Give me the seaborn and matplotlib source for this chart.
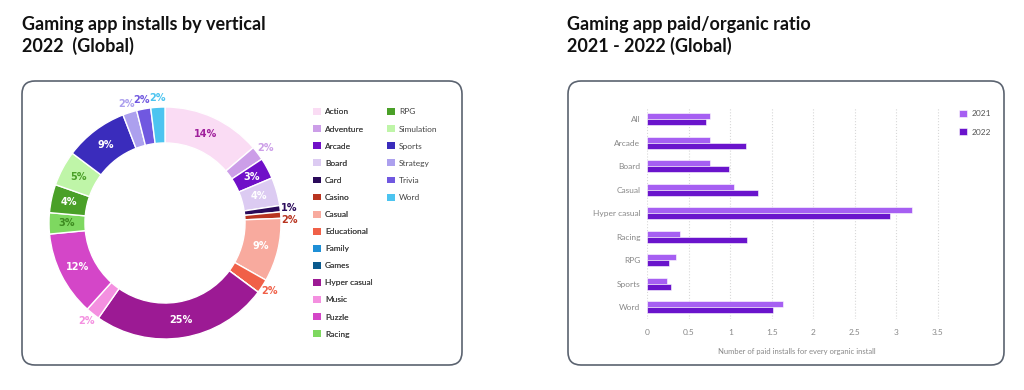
import numpy as np
import pandas as pd
import matplotlib
matplotlib.use('Agg')
import matplotlib.pyplot as plt
from matplotlib.patches import FancyBboxPatch, Patch
import seaborn as sns

sns.set_style('white')
plt.rcParams['font.family'] = ['Lato', 'DejaVu Sans']

# donut: installs share by vertical, 2022
verticals = ['Action', 'Adventure', 'Arcade', 'Board', 'Card', 'Casino', 'Casual',
             'Educational', 'Family', 'Games', 'Hyper casual', 'Music', 'Puzzle',
             'Racing', 'RPG', 'Simulation', 'Sports', 'Strategy', 'Trivia', 'Word']
shares = [14, 2, 3, 4, 0.9, 0.9, 9, 2, 0, 0, 25, 2, 12, 3, 4, 5, 9, 2, 2, 2]
share_labels = ['14%', '2%', '3%', '4%', '1%', '2%', '9%', '2%', '', '', '25%', '2%',
                '12%', '3%', '4%', '5%', '9%', '2%', '2%', '2%']
vert_colors = ['#fadcf4', '#cc9ee8', '#7010c8', '#dccbf2', '#2a0a5a', '#b83420',
               '#f8aa9e', '#f06048', '#1e8fd6', '#0a5a8e', '#9c1a94', '#f490e0',
               '#d446c8', '#7ed860', '#4aa028', '#bff5a8', '#3a2cbc', '#aca0ee',
               '#7058e0', '#4cc4f0']
label_colors = ['#a0209c', '#cc9ee8', 'white', 'white', '#2a0a5a', '#b83420', 'white',
                '#f06048', 'white', 'white', 'white', '#f490e0', 'white', '#3d8a20',
                'white', '#4aa028', 'white', '#aca0ee', '#7058e0', '#4cc4f0']

# bars: paid / organic ratio
cats = ['All', 'Arcade', 'Board', 'Casual', 'Hyper casual', 'Racing', 'RPG', 'Sports', 'Word']
ratio_2021 = [0.75, 0.75, 0.76, 1.04, 3.19, 0.39, 0.35, 0.24, 1.63]
ratio_2022 = [0.71, 1.19, 0.98, 1.33, 2.93, 1.20, 0.26, 0.29, 1.51]
years = ['2021', '2022']
year_colors = ['#a65ff2', '#6a14cc']

W, H = 1024, 390
fig = plt.figure(figsize=(W / 100, H / 100), dpi=100)


def px_axes(left, top, width, height):
    return fig.add_axes([left / W, 1 - (top + height) / H, width / W, height / H])


# background panels
bg = fig.add_axes([0, 0, 1, 1], zorder=-5)
bg.set_xlim(0, W)
bg.set_ylim(H, 0)
bg.axis('off')
for x0, x1 in [(22, 462), (568, 1004)]:
    bg.add_patch(FancyBboxPatch((x0, 81), x1 - x0, 284,
                                boxstyle='round,pad=0,rounding_size=13',
                                fc='white', ec='#5b6370', lw=1.2))

fig.text(22 / W, 1 - 16 / H, 'Gaming app installs by vertical\n2022  (Global)',
         fontsize=13, fontweight='bold', va='top', ha='left', linespacing=1.28, color='#111111')
fig.text(567 / W, 1 - 16 / H, 'Gaming app paid/organic ratio\n2021 - 2022 (Global)',
         fontsize=13, fontweight='bold', va='top', ha='left', linespacing=1.28, color='#111111')

# ---- donut
cx, cy, R = 165, 223, 116
ax1 = px_axes(cx - 1.3 * R, cy - 1.3 * R, 2.6 * R, 2.6 * R)
wedges, _ = ax1.pie(shares, colors=vert_colors, startangle=90, counterclock=False,
                    radius=1, wedgeprops=dict(width=0.31, edgecolor='white', linewidth=1))
ax1.set_xlim(-1.3, 1.3)
ax1.set_ylim(-1.3, 1.3)
ax1.set_aspect('equal')

total = sum(shares)
cum = 0
last_out = None
for v, lab, lc in zip(shares, share_labels, label_colors):
    mid = (cum + v / 2) / total
    cum += v
    if not lab:
        continue
    ang = np.deg2rad(90 - 360 * mid)
    r = 0.845 if v >= 3 else 1.08
    x, y = r * np.cos(ang), r * np.sin(ang)
    if v < 3:
        # thin slices on the right side: push the lower label down a bit
        if last_out is not None and abs(x) > 0.9 and abs(y - last_out[1]) < 0.11:
            y = last_out[1] - 0.11
        last_out = (x, y)
    ax1.text(x, y, lab, ha='center', va='center',
             fontsize=7, fontweight='bold', color=lc,
             family=['Liberation Sans Narrow', 'DejaVu Sans'])

handles = [Patch(facecolor=c, edgecolor='none') for c in vert_colors]
leg_kw = dict(loc='upper left', frameon=False, fontsize=6, labelcolor='#444444',
              handlelength=0.9, handleheight=0.9, handletextpad=0.5,
              labelspacing=1.17, borderpad=0)
leg1 = fig.legend(handles[:14], verticals[:14], bbox_to_anchor=(309 / W, 1 - 104 / H), **leg_kw)
fig.add_artist(leg1)
fig.legend(handles[14:], verticals[14:], bbox_to_anchor=(383 / W, 1 - 104 / H), **leg_kw)

# ---- bars
df = pd.DataFrame({'vertical': cats * 2,
                   'year': [years[0]] * len(cats) + [years[1]] * len(cats),
                   'ratio': ratio_2021 + ratio_2022})
ax2 = px_axes(647.3, 107.5, 298.7, 211.5)
sns.barplot(data=df, y='vertical', x='ratio', hue='year', palette=year_colors,
            orient='h', width=0.52, saturation=1, ax=ax2, edgecolor='white', linewidth=0.4)
ax2.set_xlim(0, 3.6)
ax2.set_ylim(8.5, -0.5)
ax2.set_xticks(np.arange(0, 3.51, 0.5))
ax2.set_xticklabels(['0', '0.5', '1', '1.5', '2', '2.5', '3', '3.5'])
ax2.grid(axis='x', linestyle=':', color='#d8d8d8', linewidth=0.8)
ax2.set_axisbelow(True)
sns.despine(ax=ax2, left=True, bottom=True)
ax2.tick_params(length=0, labelsize=6, labelcolor='#888888')
ax2.tick_params(axis='y', pad=5)
ax2.tick_params(axis='x', pad=7)
ax2.set_ylabel('')
ax2.set_xlabel('Number of paid installs for every organic install', fontsize=5.5,
               color='#888888', labelpad=9)
h, l = ax2.get_legend_handles_labels()
ax2.get_legend().remove()
fig.legend(h, l, loc='upper left', bbox_to_anchor=(955 / W, 1 - 106 / H), frameon=False,
           fontsize=6, labelcolor='#555555', handlelength=0.9, handleheight=0.9,
           handletextpad=0.6, labelspacing=1.3, borderpad=0)

fig.savefig('out.png', dpi=100, facecolor='white')
